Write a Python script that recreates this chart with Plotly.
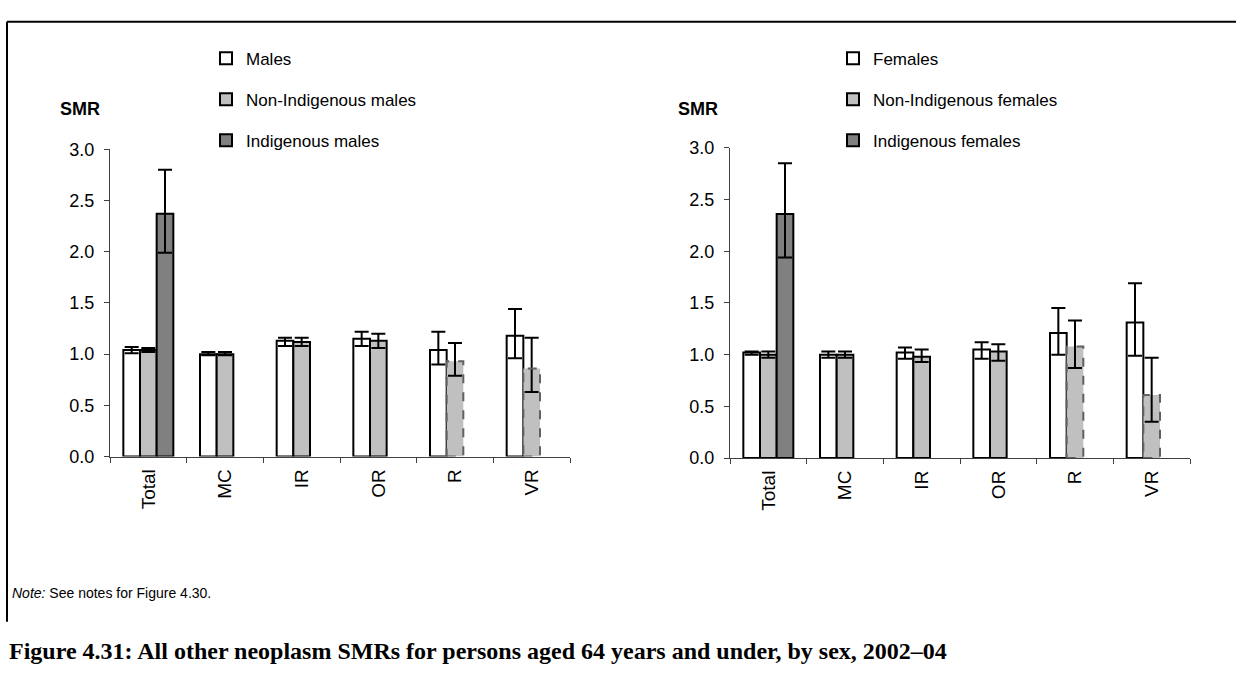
import plotly.graph_objects as go

categories = ["Total", "MC", "IR", "OR", "R", "VR"]

# Males panel
males = [1.04, 1.00, 1.13, 1.15, 1.04, 1.18]
males_lo = [1.01, 0.99, 1.08, 1.08, 0.90, 0.96]
males_hi = [1.07, 1.02, 1.16, 1.22, 1.22, 1.44]
nonind_males = [1.04, 1.00, 1.12, 1.13, 0.93, 0.86]
nonind_males_lo = [1.02, 0.99, 1.08, 1.06, 0.79, 0.63]
nonind_males_hi = [1.06, 1.02, 1.16, 1.20, 1.11, 1.16]
ind_males = [2.37, None, None, None, None, None]
ind_males_lo = [1.99, None, None, None, None, None]
ind_males_hi = [2.80, None, None, None, None, None]

# Females panel
females = [1.02, 1.00, 1.02, 1.05, 1.21, 1.31]
females_lo = [1.00, 0.97, 0.96, 0.96, 1.00, 0.99]
females_hi = [1.03, 1.03, 1.07, 1.12, 1.45, 1.69]
nonind_females = [1.00, 1.00, 0.98, 1.03, 1.08, 0.61]
nonind_females_lo = [0.97, 0.97, 0.93, 0.94, 0.87, 0.35]
nonind_females_hi = [1.03, 1.03, 1.05, 1.10, 1.33, 0.97]
ind_females = [2.36, None, None, None, None, None]
ind_females_lo = [1.94, None, None, None, None, None]
ind_females_hi = [2.85, None, None, None, None, None]

# Non-Indigenous estimates drawn with dashed outline
nonind_dashed = [False, False, False, False, True, True]

W, H = 1236, 686
FONT = "Liberation Sans, Arial, sans-serif"
BARGAP = 0.348
NTRACE = 3


def err(vals, lo, hi):
    plus = [None if v is None else h - v for v, h in zip(vals, hi)]
    minus = [None if v is None else v - l for v, l in zip(vals, lo)]
    return dict(type="data", symmetric=False, array=plus, arrayminus=minus,
                color="black", thickness=2, width=7)


fig = go.Figure()

panels = [
    ("x", "y", "legend", ["Males", "Non-Indigenous males", "Indigenous males"],
     [(males, males_lo, males_hi), (nonind_males, nonind_males_lo, nonind_males_hi),
      (ind_males, ind_males_lo, ind_males_hi)]),
    ("x2", "y2", "legend2", ["Females", "Non-Indigenous females", "Indigenous females"],
     [(females, females_lo, females_hi), (nonind_females, nonind_females_lo, nonind_females_hi),
      (ind_females, ind_females_lo, ind_females_hi)]),
]
fills = ["#ffffff", "#c0c0c0", "#808080"]

shapes = []
for xa, ya, lg, names, series in panels:
    for k, (name, (vals, lo, hi)) in enumerate(zip(names, series)):
        if k == 1:
            lw = [0 if d else 2 for d in nonind_dashed]
        else:
            lw = 2
        fig.add_trace(go.Bar(
            x=categories, y=vals, name=name, xaxis=xa, yaxis=ya,
            legend=lg, legendgroup=name,
            marker=dict(color=fills[k], line=dict(color="black", width=lw)),
            error_y=err(vals, lo, hi),
        ))
        if k == 1:
            gw = 1 - BARGAP
            bw = gw / NTRACE
            for i, (v, d) in enumerate(zip(vals, nonind_dashed)):
                if d:
                    x0 = i - gw / 2 + k * bw
                    shapes.append(dict(type="rect", xref=xa, yref=ya,
                                       x0=x0, x1=x0 + bw, y0=0, y1=v,
                                       line=dict(color="#606060", width=2, dash="dash"),
                                       fillcolor="rgba(0,0,0,0)", layer="above"))

# frame lines
shapes.append(dict(type="line", xref="paper", yref="paper",
                   x0=7 / W, x1=1.0, y0=1 - 12 / H, y1=1 - 12 / H,
                   line=dict(color="black", width=2)))
shapes.append(dict(type="line", xref="paper", yref="paper",
                   x0=7 / W, x1=7 / W, y0=1 - 12 / H, y1=1 - 630 / H,
                   line=dict(color="black", width=2)))

axis_common = dict(showline=True, linecolor="#404040", linewidth=1,
                   ticks="outside", ticklen=5, tickcolor="#404040",
                   showgrid=False, zeroline=False)

xcommon = dict(axis_common, tickson="boundaries", tickangle=-90, type="category",
               ticklabelstandoff=4,
               tickfont=dict(family=FONT, size=19, color="black"))
ycommon = dict(axis_common, range=[0, 3], dtick=0.5, tickformat=".1f",
               ticklabelstandoff=6,
               tickfont=dict(family=FONT, size=18, color="black"))

legend_common = dict(font=dict(family=FONT, size=17, color="black"),
                     bgcolor="rgba(0,0,0,0)", borderwidth=0,
                     tracegroupgap=16, xanchor="left", yanchor="top",
                     traceorder="grouped")

fig.update_layout(
    width=W, height=H,
    margin=dict(l=0, r=0, t=0, b=0),
    paper_bgcolor="white", plot_bgcolor="white",
    barmode="group", bargap=BARGAP, bargroupgap=0,
    xaxis=dict(xcommon, domain=[110 / W, 570 / W], anchor="y"),
    yaxis=dict(ycommon, domain=[1 - 460 / H, 1 - 143.5 / H], anchor="x"),
    xaxis2=dict(xcommon, domain=[730 / W, 1190 / W], anchor="y2"),
    yaxis2=dict(ycommon, domain=[1 - 461.5 / H, 1 - 142 / H], anchor="x2"),
    legend=dict(legend_common, x=206 / W, y=1 - 31.5 / H),
    legend2=dict(legend_common, x=833 / W, y=1 - 31.5 / H),
    shapes=shapes,
    showlegend=True,
    annotations=[
        dict(text="<b>SMR</b>", x=80 / W, y=1 - 102 / H, xref="paper", yref="paper",
             xanchor="center", yanchor="middle", showarrow=False,
             font=dict(family=FONT, size=18, color="black")),
        dict(text="<b>SMR</b>", x=698 / W, y=1 - 102 / H, xref="paper", yref="paper",
             xanchor="center", yanchor="middle", showarrow=False,
             font=dict(family=FONT, size=18, color="black")),
        dict(text="<i>Note:</i> See notes for Figure 4.30.", x=10 / W, y=1 - 600 / H,
             xref="paper", yref="paper", xanchor="left", yanchor="middle", showarrow=False,
             font=dict(family="Liberation Sans Narrow, Liberation Sans, Arial", size=14, color="black")),
        dict(text="<b>Figure 4.31: All other neoplasm SMRs for persons aged 64 years and under, by sex, 2002–04</b>",
             x=7 / W, y=1 - 660 / H, xref="paper", yref="paper", xanchor="left", yanchor="middle",
             showarrow=False,
             font=dict(family="Liberation Serif, Times New Roman, serif", size=24, color="black")),
    ],
)

fig.write_html("out.html", config={"displayModeBar": False},
               post_script="document.body.style.margin='0px';document.body.style.overflow='hidden';")
